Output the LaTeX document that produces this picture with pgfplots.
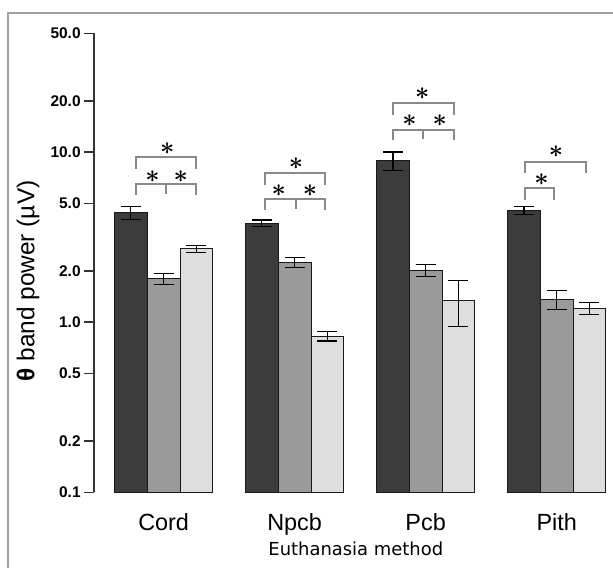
\documentclass[border=0pt]{standalone}
\usepackage{pgfplots}
\pgfplotsset{compat=1.18}
\usepackage{fontspec}
\setmainfont{Liberation Sans}
\newfontfamily\dejavu{DejaVu Sans}

\definecolor{bdark}{HTML}{3C3C3C}
\definecolor{bmid}{HTML}{9A9A9A}
\definecolor{blight}{HTML}{DEDEDE}
\definecolor{brkgray}{HTML}{8A8A8A}
\definecolor{framegray}{HTML}{A0A0A0}

% bold asterisk, protected so that it is not expanded inside the axis
\protected\def\bast{{\fontsize{32}{32}\selectfont\boldmath$\ast$}}

\begin{document}
\begin{tikzpicture}
\useasboundingbox (-93.8bp,-75.7bp) rectangle (519.2bp,492.3bp);
\begin{axis}[
  at={(0,0)}, anchor=south west,
  scale only axis, width=519.2bp, height=459bp,
  ymode=log, log origin=infty,
  ymin=0.1, ymax=50,
  xmin=-0.533, xmax=3.43,
  ybar=0pt, bar width=0.25,
  clip=false,
  axis y line=left, axis x line=bottom,
  x axis line style={draw=none},
  y axis line style={-, draw=black!80, line width=1.5bp},
  xtick={0,1,2,3}, xticklabels={Cord,Npcb,Pcb,Pith},
  xtick style={draw=none},
  ytick={0.1,0.2,0.5,1,2,5,10,20,50},
  yticklabels={0.1,0.2,0.5,1.0,2.0,5.0,10.0,20.0,50.0},
  yminorticks=false,
  tick align=outside, major tick length=10bp,
  ytick style={draw=black!80, line width=1.5bp},
  yticklabel style={font=\fontsize{15.5}{15.5}\selectfont\bfseries, inner sep=0pt, xshift=-3bp},
  xticklabel style={font=\fontsize{23.5}{23.5}\selectfont, inner sep=0pt, anchor=north, yshift=-11bp},
  error bars/y dir=both, error bars/y explicit,
  error bars/error bar style={black, line width=1.2bp},
  error bars/error mark options={rotate=90, black, line width=1.2bp, mark size=10bp},
]
\addplot[fill=bdark, draw=black!90, line width=0.8bp]
  table[x=x, y=y, y error=e] {
x y e
0 4.41 0.40
1 3.82 0.17
2 8.90 1.12
3 4.53 0.25
};
\addplot[fill=bmid, draw=black!90, line width=0.8bp]
  table[x=x, y=y, y error=e] {
x y e
0 1.80 0.13
1 2.25 0.15
2 2.02 0.16
3 1.36 0.17
};
\addplot[fill=blight, draw=black!90, line width=0.8bp]
  table[x=x, y=y, y error=e] {
x y e
0 2.71 0.13
1 0.83 0.055
2 1.35 0.41
3 1.21 0.10
};

% significance brackets
\draw[draw=brkgray, line width=2bp] (axis cs:-0.213,5.61) -- (axis cs:-0.213,6.51) -- (axis cs:0.249,6.51) -- (axis cs:0.249,5.61);
\draw[draw=brkgray, line width=2bp] (axis cs:0.019,6.51) -- (axis cs:0.019,5.7);
\draw[draw=brkgray, line width=2bp] (axis cs:-0.213,8.0) -- (axis cs:-0.213,9.42) -- (axis cs:0.249,9.42) -- (axis cs:0.249,8.0);
\draw[draw=brkgray, line width=2bp] (axis cs:0.775,4.58) -- (axis cs:0.775,5.29) -- (axis cs:1.234,5.29) -- (axis cs:1.234,4.58);
\draw[draw=brkgray, line width=2bp] (axis cs:1.01,5.29) -- (axis cs:1.01,4.65);
\draw[draw=brkgray, line width=2bp] (axis cs:0.775,6.42) -- (axis cs:0.775,7.59) -- (axis cs:1.234,7.59) -- (axis cs:1.234,6.42);
\draw[draw=brkgray, line width=2bp] (axis cs:1.75,11.8) -- (axis cs:1.75,13.53) -- (axis cs:2.213,13.53) -- (axis cs:2.213,11.8);
\draw[draw=brkgray, line width=2bp] (axis cs:1.983,13.53) -- (axis cs:1.983,11.9);
\draw[draw=brkgray, line width=2bp] (axis cs:1.75,16.6) -- (axis cs:1.75,19.59) -- (axis cs:2.213,19.59) -- (axis cs:2.213,16.6);
\draw[draw=brkgray, line width=2bp] (axis cs:2.759,5.24) -- (axis cs:2.759,6.14) -- (axis cs:2.983,6.14) -- (axis cs:2.983,5.24);
\draw[draw=brkgray, line width=2bp] (axis cs:2.759,7.5) -- (axis cs:2.759,8.81) -- (axis cs:3.221,8.81) -- (axis cs:3.221,7.5);

% asterisks
\node[inner sep=0pt] at (axis cs:-0.085,7.19) {\bast};
\node[inner sep=0pt] at (axis cs:0.13,7.19) {\bast};
\node[inner sep=0pt] at (axis cs:0.028,10.46) {\bast};
\node[inner sep=0pt] at (axis cs:0.879,5.95) {\bast};
\node[inner sep=0pt] at (axis cs:1.118,5.95) {\bast};
\node[inner sep=0pt] at (axis cs:1.01,8.61) {\bast};
\node[inner sep=0pt] at (axis cs:1.876,15.36) {\bast};
\node[inner sep=0pt] at (axis cs:2.108,15.36) {\bast};
\node[inner sep=0pt] at (axis cs:1.974,22.23) {\bast};
\node[inner sep=0pt] at (axis cs:2.884,6.87) {\bast};
\node[inner sep=0pt] at (axis cs:2.995,10.09) {\bast};
\end{axis}
\draw[framegray, line width=2.5bp] (530bp,479.5bp) -- (-85.8bp,479.5bp) -- (-85.8bp,-90bp);
\node[font=\dejavu\fontsize{18}{18}\selectfont, anchor=base] at (262bp,-62.7bp) {Euthanasia method};
\node[font=\fontsize{24.5}{24.5}\selectfont, rotate=90, anchor=center] at (-65.8bp,211.3bp) {{\bfseries θ} band power (µV)};
\end{tikzpicture}
\end{document}
